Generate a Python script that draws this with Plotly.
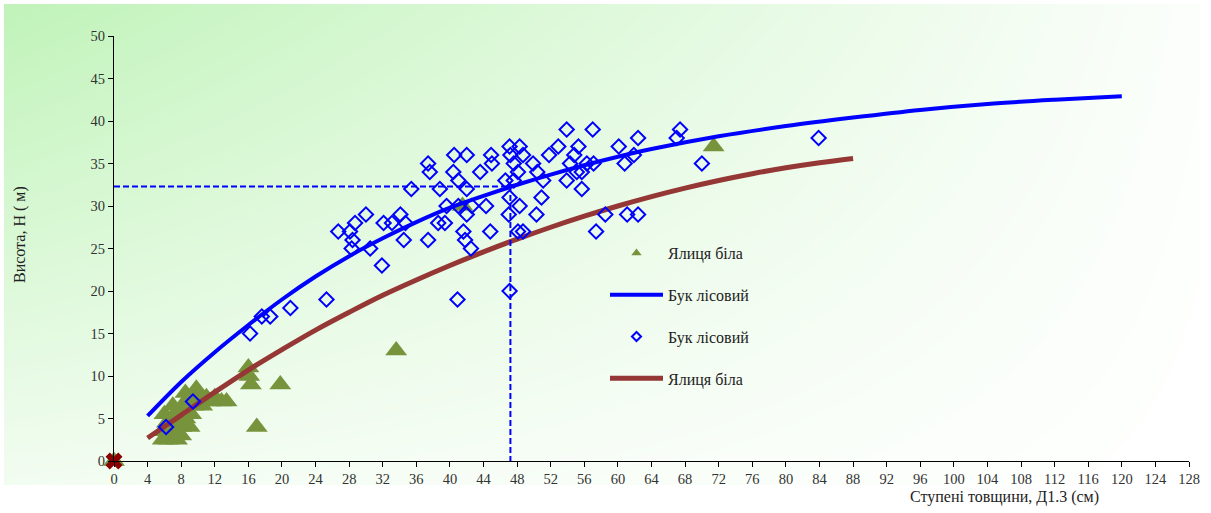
import plotly.graph_objects as go

# Beech (Бук лісовий): diameter class (cm) and height (m) of sample trees
beech_d = [6.2, 9.4, 16.2, 17.6, 18.6, 21.0, 25.3,
           26.7, 28.1, 28.7, 28.4, 28.3, 30.0, 30.5, 31.9, 32.1, 33.1, 34.1, 34.7, 34.5, 35.4,
           37.4, 37.6, 37.4, 38.8, 39.6, 38.6, 39.4,
           40.5, 42.0, 40.4, 41.0, 42.0, 41.0, 42.6, 42.0, 41.6, 41.8, 42.5, 40.9,
           43.6, 44.3, 44.9, 45.0, 44.8,
           46.6, 47.1, 47.0, 47.1, 47.1, 48.3, 47.2, 48.7, 47.6, 48.1, 47.6, 48.3, 48.1, 48.7,
           49.9, 50.4, 50.3, 50.9, 51.1, 51.8, 52.9, 53.9, 53.9, 54.3, 54.8, 55.3, 55.1, 55.7,
           56.3, 55.7, 57.0, 57.1, 57.4, 58.5,
           60.1, 60.8, 61.1, 61.9, 62.4, 62.4, 67.0, 67.4, 70.0, 83.9]
beech_h = [4, 7, 15, 17, 17, 18, 19,
           27, 27, 28, 26, 25, 29, 25, 23, 28, 28, 29, 28, 26, 32,
           35, 34, 26, 32, 30, 28, 28,
           36, 36, 34, 33, 32, 30, 30, 29, 27, 26, 25, 19,
           34, 30, 36, 35, 27,
           33, 31, 29, 20, 37, 37, 36, 36, 35, 34, 33, 30, 27, 27,
           35, 34, 29, 31, 33, 36, 37, 39, 33, 35, 36, 37, 34, 34,
           35, 32, 39, 35, 27, 29,
           37, 35, 29, 36, 38, 29, 38, 39, 35, 38]

# Silver fir (Ялиця біла): diameter class (cm) and height (m)
fir_d = [0, 5.8, 6.5, 7.5, 8.0, 5.8, 6.3, 6.0, 7.0, 7.0, 7.2, 7.0, 8.0, 8.5, 9.0, 9.2,
         8.0, 8.5, 8.5, 9.5, 9.8, 9.8, 10.5, 11.0, 11.5, 12.0, 12.8, 13.4, 10.5,
         16.0, 16.1, 16.3, 17.0, 19.8, 33.6, 41.5, 71.4]
fir_h = [0, 2.5, 2.5, 2.5, 3.0, 3.5, 4.5, 5.5, 3.5, 4.5, 5.5, 6.5, 4.0, 5.0, 4.0, 5.5,
         6.0, 7.0, 8.0, 6.5, 7.5, 8.5, 6.5, 7.5, 7.0, 7.5, 7.0, 7.0, 7.5,
         11, 10, 9, 4, 9, 13, 30, 37]

# Height curves H = f(D) for both species
beech_fit_d = [4, 8, 12, 16, 20, 24, 28, 32, 36, 40, 44, 48, 52, 56, 60, 64, 72, 80, 88, 96, 104, 112, 120]
beech_fit_h = [5.3, 9.3, 12.8, 16.0, 19.0, 21.7, 24.1, 26.2, 28.1, 29.8, 31.2, 32.5, 33.7, 34.8,
               35.8, 36.7, 38.2, 39.4, 40.4, 41.3, 42.0, 42.5, 42.9]
fir_fit_d = [4, 8, 12, 16, 20, 24, 28, 32, 36, 40, 44, 48, 52, 56, 60, 64, 68, 72, 76, 80, 84, 88]
fir_fit_h = [2.7, 5.4, 8.1, 10.7, 13.1, 15.4, 17.5, 19.5, 21.3, 23.0, 24.6, 26.1, 27.5, 28.8,
             30.0, 31.1, 32.1, 33.0, 33.8, 34.5, 35.1, 35.6]

# Mean stand diameter and height of beech (dashed guide lines)
mean_d = 47.2
mean_h = 32.3

# Origin point
origin_d = [0]
origin_h = [0]

x_ticks = list(range(0, 129, 4))
y_ticks = list(range(0, 51, 5))

GREEN = "#77933C"
BLUE = "#0000FF"
BROWN = "#953735"
FONT = "'Liberation Serif', 'Times New Roman', 'DejaVu Serif', serif"

W, H = 1211, 513


def px_x(p):
    return p / W


def px_y(p):
    return 1 - p / H


fig = go.Figure()

# Chart-area background: soft green fading towards the lower right
fig.add_trace(go.Heatmap(
    x=[0, 1], y=[0, 1], z=[[0.2, 0.0], [1.0, 0.05]],
    zmin=0, zmax=1, zsmooth="best", showscale=False, hoverinfo="skip",
    colorscale=[[0, "#ffffff"], [1, "#c0f3b9"]],
    xaxis="x", yaxis="y", showlegend=False,
))

fig.add_trace(go.Scatter(
    x=fir_d, y=fir_h, mode="markers", name="Ялиця біла", showlegend=False,
    marker=dict(symbol="triangle-up", size=19, color=GREEN),
    xaxis="x2", yaxis="y2", cliponaxis=False,
))
fig.add_trace(go.Scatter(
    x=fir_fit_d, y=fir_fit_h, mode="lines", name="Ялиця біла",
    legendrank=4, legendgroup="g4",
    line=dict(color=BROWN, width=5, shape="spline"),
    xaxis="x2", yaxis="y2",
))
fig.add_trace(go.Scatter(
    x=beech_fit_d, y=beech_fit_h, mode="lines", name="Бук лісовий",
    legendrank=2, legendgroup="g2",
    line=dict(color=BLUE, width=4, shape="spline"),
    xaxis="x2", yaxis="y2",
))
fig.add_trace(go.Scatter(
    x=beech_d, y=beech_h, mode="markers", name="Бук лісовий", showlegend=False,
    marker=dict(symbol="diamond-open", size=11, color=BLUE, line=dict(width=2, color=BLUE)),
    xaxis="x2", yaxis="y2",
))
# Dashed guides to the mean beech tree
fig.add_trace(go.Scatter(
    x=[0, mean_d, mean_d], y=[mean_h, mean_h, 0], mode="lines", showlegend=False,
    line=dict(color=BLUE, width=2, dash="6px,3px"),
    xaxis="x2", yaxis="y2", hoverinfo="skip",
))
fig.add_trace(go.Scatter(
    x=origin_d, y=origin_h, mode="markers", showlegend=False,
    marker=dict(symbol="x", size=15, color="#8B0000"),
    xaxis="x2", yaxis="y2", cliponaxis=False,
))

# Legend entries for the marker series (small symbols)
fig.add_trace(go.Scatter(
    x=[None], y=[None], mode="markers", name="Ялиця біла",
    legendrank=1, legendgroup="g1",
    marker=dict(symbol="triangle-up", size=9, color=GREEN),
    xaxis="x2", yaxis="y2",
))
fig.add_trace(go.Scatter(
    x=[None], y=[None], mode="markers", name="Бук лісовий",
    legendrank=3, legendgroup="g3",
    marker=dict(symbol="diamond-open", size=7, color=BLUE, line=dict(width=2, color=BLUE)),
    xaxis="x2", yaxis="y2",
))

axis_font = dict(family=FONT, size=14.5, color="#333333")
text_font = dict(family=FONT, size=16, color="#222222")

fig.update_layout(
    width=W, height=H, autosize=False,
    margin=dict(l=0, r=0, t=0, b=0, autoexpand=False),
    paper_bgcolor="white", plot_bgcolor="rgba(0,0,0,0)",
    font=text_font,
    xaxis=dict(domain=[px_x(4), px_x(1200)], range=[0, 1], visible=False,
               fixedrange=True, automargin=False),
    yaxis=dict(domain=[px_y(485), px_y(4)], range=[0, 1], visible=False,
               fixedrange=True, automargin=False),
    xaxis2=dict(
        domain=[px_x(114), px_x(1189)], range=[0, 128], anchor="y2", automargin=False,
        tickvals=x_ticks, ticktext=[str(v) for v in x_ticks],
        showgrid=False, zeroline=False, showline=True, linecolor="black", linewidth=1,
        ticks="outside", ticklen=5, tickcolor="black", tickfont=axis_font,
    ),
    yaxis2=dict(
        domain=[px_y(461), px_y(36)], range=[0, 50], anchor="x2", automargin=False,
        tickvals=y_ticks, ticktext=[str(v) for v in y_ticks],
        showgrid=False, zeroline=False, showline=True, linecolor="black", linewidth=1,
        ticks="outside", ticklen=5, tickcolor="black", tickfont=axis_font,
    ),
    legend=dict(
        x=px_x(605), y=px_y(236), xanchor="left", yanchor="top",
        bgcolor="rgba(0,0,0,0)", borderwidth=0, itemwidth=53,
        tracegroupgap=18, traceorder="grouped",
        font=text_font,
    ),
    annotations=[
        dict(text="Ступені товщини, Д1.3 (см)", xref="paper", yref="paper",
             x=px_x(1004), y=px_y(497), xanchor="center", yanchor="middle",
             showarrow=False, font=text_font),
        dict(text="Висота, Н ( м)", xref="paper", yref="paper",
             x=px_x(20), y=px_y(235), xanchor="center", yanchor="middle",
             showarrow=False, textangle=-90, font=text_font),
    ],
)

fig.write_html("out.html")
